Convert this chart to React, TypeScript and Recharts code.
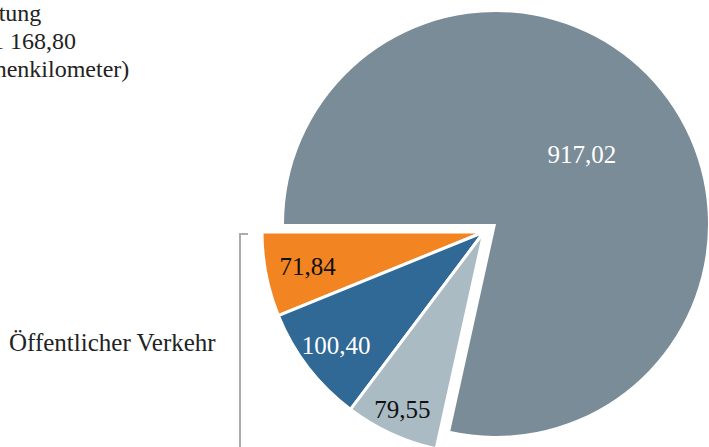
import React from "react";
import { PieChart, Pie, Cell } from "recharts";

const categories = ["Schiene Nahverkehr", "Straßenbahn/Bus", "Schiene Fernverkehr", "Motorisierter Individualverkehr"];
const values = [71.84, 100.4, 79.55, 917.02];
const colors = ["#F28522", "#306896", "#AABBC4", "#7A8C97"];
const labelColors = ["#111111", "#FFFFFF", "#111111", "#FFFFFF"];
const titleLines = ["Verkehrsleistung", "insgesamt: 1 168,80", "(Mrd. Personenkilometer)"];
const groupLabel = "Öffentlicher Verkehr";
const bigIndex = 3;

const labelRadiusFactors = [0.81, 0.84, 0.88, 0.52];

const data = categories.map((name, i) => ({ name, value: values[i] }));

const fmt = (v: number) => v.toFixed(2).replace(".", ",");
const FONT = "'Liberation Serif', 'DejaVu Serif', serif";
const RADIAN = Math.PI / 180;

const makeLabel = (showBig: boolean) => (props: any) => {
  const { cx, cy, midAngle, outerRadius, index, value } = props;
  const isBig = index === bigIndex;
  if (isBig !== showBig) return null;
  const r = outerRadius * labelRadiusFactors[index];
  const x = cx + r * Math.cos(-midAngle * RADIAN);
  const y = cy + r * Math.sin(-midAngle * RADIAN);
  return (
    <text
      x={x}
      y={y}
      fill={labelColors[index]}
      textAnchor="middle"
      dominantBaseline="central"
      style={{ fontFamily: FONT, fontSize: 25 }}
    >
      {fmt(value)}
    </text>
  );
};

export default function App() {
  return (
    <div style={{ position: "absolute", left: 0, top: 0, width: 709, height: 447, background: "#fff", overflow: "hidden" }}>
      <PieChart width={709} height={447} margin={{ top: 0, right: 0, bottom: 0, left: 0 }}>
        <Pie
          data={data}
          dataKey="value"
          cx={496}
          cy={224}
          outerRadius={212}
          startAngle={180}
          endAngle={540}
          isAnimationActive={false}
          labelLine={false}
          label={makeLabel(true)}
          stroke="none"
        >
          {data.map((d, i) => (
            <Cell key={i} fill={i === bigIndex ? colors[i] : "none"} stroke="none" />
          ))}
        </Pie>
        <Pie
          data={data}
          dataKey="value"
          cx={484}
          cy={232}
          outerRadius={222}
          startAngle={180}
          endAngle={540}
          isAnimationActive={false}
          labelLine={false}
          label={makeLabel(false)}
        >
          {data.map((d, i) => (
            <Cell
              key={i}
              fill={i === bigIndex ? "none" : colors[i]}
              stroke={i === bigIndex ? "none" : "#FFFFFF"}
              strokeWidth={3}
            />
          ))}
        </Pie>
      </PieChart>
      <svg width={709} height={447} style={{ position: "absolute", left: 0, top: 0, pointerEvents: "none" }}>
        <g style={{ fontFamily: FONT, fontSize: 24 }} fill="#222222">
          <text x={-120} y={21}>{titleLines[0]}</text>
          <text x={76} y={49} textAnchor="end">{titleLines[1]}</text>
          <text x={-120} y={77}>{titleLines[2]}</text>
          <text x={9} y={351} style={{ fontSize: 25 }}>{groupLabel}</text>
        </g>
        <polyline points="248,234 240,234 240,447" fill="none" stroke="#ABABAB" strokeWidth={2} />
      </svg>
    </div>
  );
}
